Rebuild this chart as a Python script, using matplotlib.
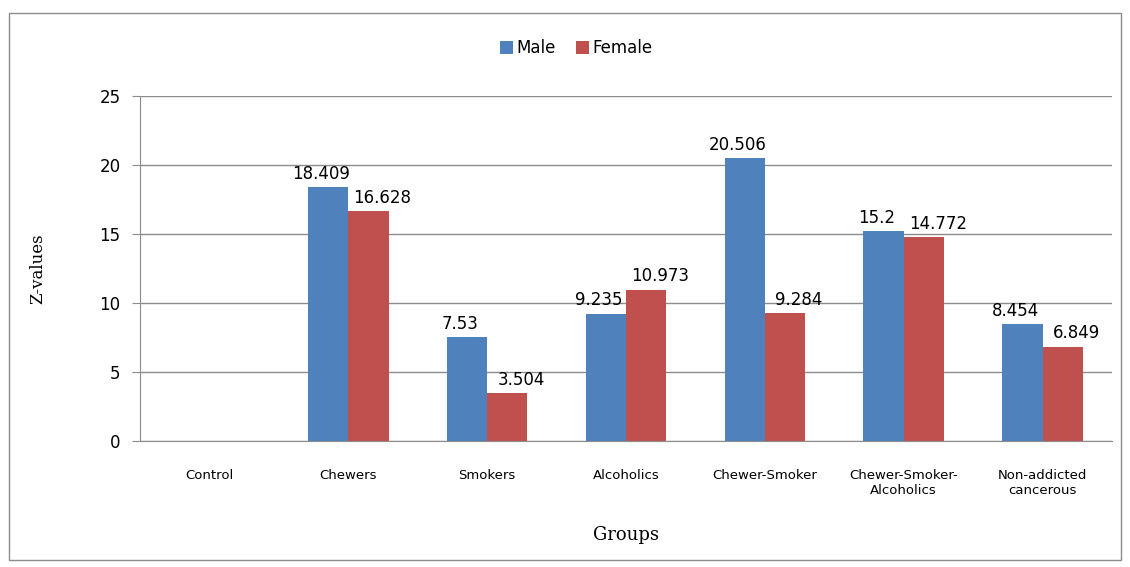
import numpy as np
import matplotlib.pyplot as plt
from matplotlib.patches import Rectangle

groups = ['Control', 'Chewers', 'Smokers', 'Alcoholics', 'Chewer-Smoker',
          'Chewer-Smoker-\nAlcoholics', 'Non-addicted\ncancerous']
male = [0, 18.409, 7.53, 9.235, 20.506, 15.2, 8.454]
female = [0, 16.628, 3.504, 10.973, 9.284, 14.772, 6.849]
male_lbl = ['', '18.409', '7.53', '9.235', '20.506', '15.2', '8.454']
female_lbl = ['', '16.628', '3.504', '10.973', '9.284', '14.772', '6.849']

fig = plt.figure(figsize=(11.3, 5.67), dpi=100)
ax = fig.add_axes([0.124, 0.222, 0.860, 0.609])

x = np.arange(len(groups))
w = 0.29
b1 = ax.bar(x - w/2, male, w, color='#4f81bd', label='Male')
b2 = ax.bar(x + w/2, female, w, color='#c0504d', label='Female')

for rect, t in zip(b1, male_lbl):
    if t:
        ax.text(rect.get_x() + rect.get_width()/2 - 0.05, rect.get_height() + 0.3, t,
                ha='center', va='bottom', fontsize=12)
for rect, t in zip(b2, female_lbl):
    if t:
        ax.text(rect.get_x() + rect.get_width()/2 + 0.1, rect.get_height() + 0.3, t,
                ha='center', va='bottom', fontsize=12)

ax.set_xlim(-0.5, len(groups) - 0.5)
ax.set_ylim(0, 25)
ax.set_yticks([0, 5, 10, 15, 20, 25])
ax.yaxis.grid(True, color='#8c8c8c', linewidth=1)
ax.set_axisbelow(True)
ax.set_xticks(x)
ax.set_xticklabels(groups, fontsize=9.5)
ax.tick_params(axis='x', length=0, pad=20)
ax.tick_params(axis='y', labelsize=12, length=6, color='#8c8c8c', pad=8)
for s in ['top', 'right']:
    ax.spines[s].set_visible(False)
ax.spines['left'].set_color('#8c8c8c')
ax.spines['bottom'].set_color('#8c8c8c')

ax.set_ylabel('Z-values', family='DejaVu Serif', fontsize=12, labelpad=38)
ax.set_xlabel('Groups', family='DejaVu Serif', fontsize=13, labelpad=21)

fig.legend(loc='center', bbox_to_anchor=(0.51, 0.915), ncol=2, frameon=False,
           fontsize=12, handlelength=0.8, handleheight=0.8, handletextpad=0.2,
           columnspacing=1.2)

fig.patches.append(Rectangle((0.008, 0.012), 0.984, 0.965, transform=fig.transFigure,
                             fill=False, edgecolor='#8c8c8c', linewidth=1))

fig.savefig('out.png', dpi=100)
